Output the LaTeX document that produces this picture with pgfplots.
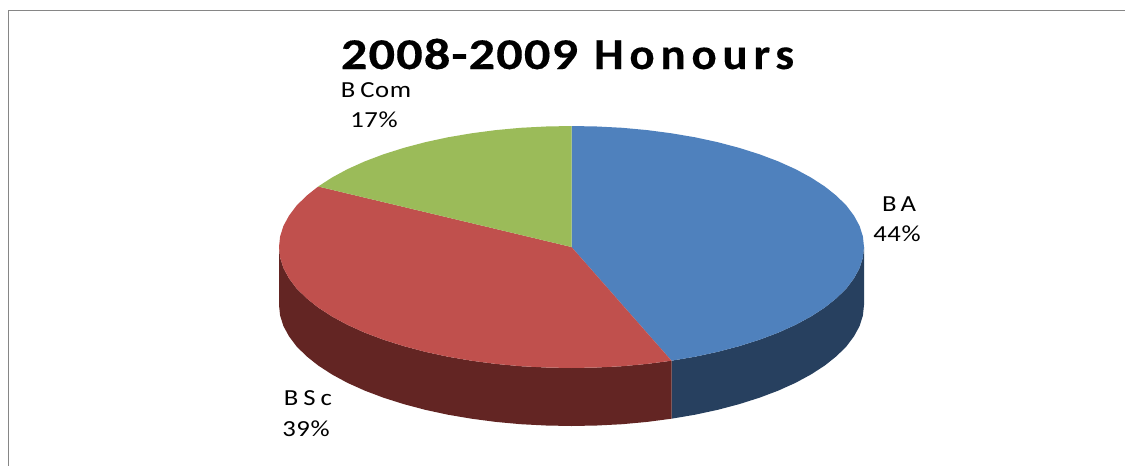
\documentclass[border=0pt]{standalone}
\usepackage{fontspec}
\setmainfont{Carlito}
\usepackage{pgfplots}
\pgfplotsset{compat=1.18}
\definecolor{cBA}{HTML}{4F81BD}
\definecolor{cBSc}{HTML}{C0504D}
\definecolor{cBCom}{HTML}{9BBB59}
\definecolor{dBA}{HTML}{27405F}
\definecolor{dBSc}{HTML}{632523}
\definecolor{frame}{HTML}{868686}
\newcommand{\lab}{\fontsize{23}{23}\selectfont\addfontfeatures{LetterSpace=3,FakeStretch=1.16}}
\begin{document}
\begin{tikzpicture}
\begin{axis}[
  scale only axis, width=1125pt, height=466pt,
  xmin=0, xmax=1125, ymin=0, ymax=466, y dir=reverse,
  hide axis, clip=true]
\addplot[fill=white, draw=none] coordinates {(0,0)(1125,0)(1125,466)(0,466)} -- cycle;
\addplot[color=frame, line width=1.2pt] coordinates {(8.5,466)(8.5,10.5)(1125,10.5)};
% side walls
\addplot[fill=dBA, draw=none] coordinates {(864,247)(862.9,257.5)(859.6,268)(854,278.3)(846.4,288.4)(836.6,298.1)(824.8,307.5)(811.1,316.4)(795.6,324.8)(778.3,332.6)(759.5,339.7)(739.3,346.1)(717.8,351.8)(695.1,356.7)(671.5,360.7)(671.5,418.7)(695.1,414.7)(717.8,409.8)(739.3,404.1)(759.5,397.7)(778.3,390.6)(795.6,382.8)(811.1,374.4)(824.8,365.5)(836.6,356.1)(846.4,346.4)(854,336.3)(859.6,326)(862.9,315.5)(864,305)} -- cycle;
\addplot[fill=dBSc, draw=none] coordinates {(671.5,360.7)(647.2,363.9)(622.3,366.2)(597,367.5)(571.5,368)(546,367.5)(520.7,366.2)(495.8,363.9)(471.5,360.7)(447.9,356.7)(425.2,351.8)(403.7,346.1)(383.5,339.7)(364.7,332.6)(347.4,324.8)(331.9,316.4)(318.2,307.5)(306.4,298.1)(296.6,288.4)(289,278.3)(283.4,268)(280.1,257.5)(279,247)(279,305)(280.1,315.5)(283.4,326)(289,336.3)(296.6,346.4)(306.4,356.1)(318.2,365.5)(331.9,374.4)(347.4,382.8)(364.7,390.6)(383.5,397.7)(403.7,404.1)(425.2,409.8)(447.9,414.7)(471.5,418.7)(495.8,421.9)(520.7,424.2)(546,425.5)(571.5,426)(597,425.5)(622.3,424.2)(647.2,421.9)(671.5,418.7)} -- cycle;
% top faces
\addplot[fill=cBA, draw=none] coordinates {(571.5,247)(571.5,126)(597,126.5)(622.3,127.8)(647.2,130.1)(671.5,133.3)(695.1,137.3)(717.8,142.2)(739.3,147.9)(759.5,154.3)(778.3,161.4)(795.6,169.2)(811.1,177.6)(824.8,186.5)(836.6,195.9)(846.4,205.6)(854,215.7)(859.6,226)(862.9,236.5)(864,247)(862.9,257.5)(859.6,268)(854,278.3)(846.4,288.4)(836.6,298.1)(824.8,307.5)(811.1,316.4)(795.6,324.8)(778.3,332.6)(759.5,339.7)(739.3,346.1)(717.8,351.8)(695.1,356.7)(671.5,360.7)} -- cycle;
\addplot[fill=cBSc, draw=none] coordinates {(571.5,247)(671.5,360.7)(647.2,363.9)(622.3,366.2)(597,367.5)(571.5,368)(546,367.5)(520.7,366.2)(495.8,363.9)(471.5,360.7)(447.9,356.7)(425.2,351.8)(403.7,346.1)(383.5,339.7)(364.7,332.6)(347.4,324.8)(331.9,316.4)(318.2,307.5)(306.4,298.1)(296.6,288.4)(289,278.3)(283.4,268)(280.1,257.5)(279,247)(280.1,236.5)(283.4,226)(289,215.7)(296.6,205.6)(306.4,195.9)(318.2,186.5)} -- cycle;
\addplot[fill=cBCom, draw=none] coordinates {(571.5,247)(318.2,186.5)(331.9,177.6)(347.4,169.2)(364.7,161.4)(383.5,154.3)(403.7,147.9)(425.2,142.2)(447.9,137.3)(471.5,133.3)(495.8,130.1)(520.7,127.8)(546,126.5)(571.5,126)} -- cycle;
% text
\node[anchor=center, font=\fontsize{44}{44}\selectfont\bfseries] at (axis cs:567.5,54) {{\addfontfeatures{LetterSpace=2.5,FakeStretch=1.19,FakeBold=0.3}2008-2009} \kern6pt{\addfontfeatures{LetterSpace=13,FakeStretch=1.07,FakeBold=0.2}Honours}};
\node[anchor=center, font=\lab] at (axis cs:376,90) {B\kern5pt Com};
\node[anchor=center, font=\lab] at (axis cs:374,119.5) {17\%};
\node[anchor=center, font=\lab] at (axis cs:899,204) {B\kern4pt A};
\node[anchor=center, font=\lab] at (axis cs:897,233.5) {44\%};
\node[anchor=center, font=\lab] at (axis cs:308,398) {B\kern5pt S\kern5pt c};
\node[anchor=center, font=\lab] at (axis cs:306,428.5) {39\%};
\end{axis}
\end{tikzpicture}
\end{document}
